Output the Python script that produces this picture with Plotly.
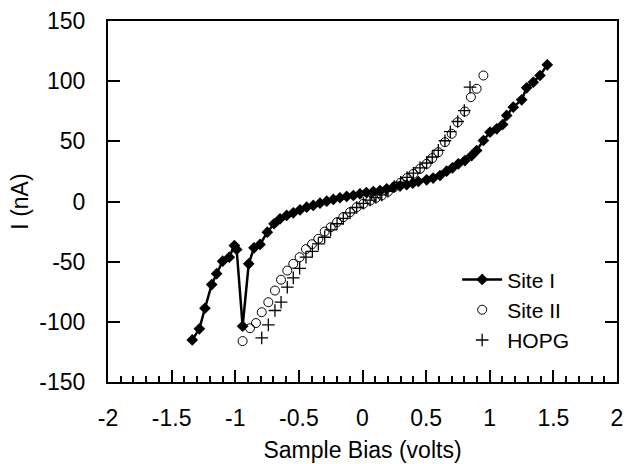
import plotly.graph_objects as go

# ---- data ----
site1_v = [-1.338, -1.282, -1.238, -1.185, -1.146, -1.099, -1.047, -1.007, -0.989, -0.942,
           -0.894, -0.853, -0.805, -0.748, -0.695, -0.648, -0.596, -0.544, -0.491, -0.439,
           -0.387, -0.334, -0.281, -0.229, -0.177, -0.124, -0.072, -0.02, 0.03, 0.085,
           0.138, 0.19, 0.242, 0.295, 0.347, 0.395, 0.439, 0.504, 0.555, 0.609,
           0.661, 0.707, 0.753, 0.805, 0.858, 0.897, 0.95, 1.002, 1.055, 1.102,
           1.133, 1.185, 1.251, 1.29, 1.342, 1.395, 1.452]
site1_i = [-115, -105.8, -88.7, -69, -60, -49.6, -46.3, -36.6, -39.9, -103.6,
           -51.8, -38.5, -35.7, -25.5, -18.5, -14.4, -11.6, -9.4, -6.9, -4.7,
           -3.3, -1.4, 0.3, 1.7, 3.1, 4.2, 5, 6.4, 7.5, 8.3,
           9.1, 10.5, 11.9, 12.8, 13.9, 15.2, 16.6, 18, 19.5, 21.6,
           25.2, 28, 31.3, 34, 38.2, 42.4, 50.7, 57.6, 60.4, 64,
           71.5, 78.4, 84.5, 94.5, 99.2, 104.7, 113.6]

site2_v = [-0.942, -0.884, -0.837, -0.792, -0.740, -0.688, -0.640, -0.591, -0.544, -0.494,
           -0.444, -0.397, -0.347, -0.297, -0.25, -0.2, -0.151, -0.098, -0.046, 0.007,
           0.06, 0.105, 0.151, 0.2, 0.25, 0.3, 0.35, 0.4, 0.452, 0.504,
           0.548, 0.596, 0.648, 0.701, 0.748, 0.805, 0.852, 0.897, 0.95]
site2_i = [-116, -105.3, -101, -92, -83.7, -74, -65, -57.4, -51.8, -46.3,
           -39.6, -35.5, -31, -25, -21.4, -17.2, -13, -8.9, -4.7, -1.9,
           0.8, 3, 5, 8.2, 12, 15.5, 19.5, 23, 27.2, 31.3,
           36, 41, 49.3, 56.3, 65.9, 74.8, 86.7, 93.7, 104.7]

hopg_v = [-0.792, -0.740, -0.688, -0.640, -0.591, -0.544, -0.494, -0.444, -0.394, -0.347,
          -0.297, -0.25, -0.2, -0.151, -0.098, -0.046, 0.007, 0.06, 0.105, 0.151,
          0.2, 0.25, 0.3, 0.35, 0.4, 0.452, 0.504, 0.548, 0.596, 0.648,
          0.69, 0.748, 0.8, 0.845]
hopg_i = [-113.3, -102.5, -90.6, -83.7, -71.2, -63.5, -55.5, -46.3, -41.5, -35.2,
          -29.7, -23.5, -18.5, -14, -9.5, -5, -1.5, 1.2, 3.3, 5.5,
          8.5, 12.5, 16, 20, 23.5, 28, 32, 37, 42.5, 50.5,
          58, 66.5, 75.5, 95]

x_ticks = [-2, -1.5, -1, -0.5, 0, 0.5, 1, 1.5, 2]
x_tick_labels = ["-2", "-1.5", "-1", "-0.5", "0", "0.5", "1", "1.5", "2"]
y_ticks = [-150, -100, -50, 0, 50, 100, 150]
y_tick_labels = ["-150", "-100", "-50", "0", "50", "100", "150"]

FONT = "Liberation Sans, Arial, Helvetica, sans-serif"
FS = 23

fig = go.Figure()
fig.add_trace(go.Scatter(
    x=site1_v, y=site1_i, name="Site I", mode="lines+markers",
    line=dict(color="black", width=2.5),
    marker=dict(symbol="diamond", size=9, color="black"),
))
fig.add_trace(go.Scatter(
    x=site2_v, y=site2_i, name="Site II", mode="markers",
    marker=dict(symbol="circle-open", size=9, color="black", line=dict(width=1)),
))
fig.add_trace(go.Scatter(
    x=hopg_v, y=hopg_i, name="HOPG", mode="markers",
    marker=dict(symbol="cross-thin-open", size=9, color="black", line=dict(width=1.3)),
))

fig.update_layout(
    width=626, height=464,
    margin=dict(l=108, r=9, t=21, b=82, autoexpand=False),
    paper_bgcolor="white", plot_bgcolor="white",
    font=dict(family=FONT, size=FS, color="black"),
    showlegend=True,
    legend=dict(
        x=0.686, y=0.34, xanchor="left", yanchor="top",
        bgcolor="rgba(0,0,0,0)", borderwidth=0,
        font=dict(size=21), tracegroupgap=0, itemwidth=40,
    ),
)
fig.update_xaxes(
    range=[-2, 2], tickmode="array", tickvals=x_ticks, ticktext=x_tick_labels,
    ticks="inside", ticklen=12, tickwidth=1.5, tickcolor="black",
    minor=dict(dtick=0.1, ticks="inside", ticklen=6, tickwidth=1.5, tickcolor="black"),
    showline=True, linewidth=2, linecolor="black", mirror=True,
    showgrid=False, zeroline=False, ticklabelstandoff=14,
    title=dict(text="Sample Bias (volts)", standoff=12, font=dict(size=FS)),
)
fig.update_yaxes(
    range=[-150, 150], tickmode="array", tickvals=y_ticks, ticktext=y_tick_labels,
    ticks="inside", ticklen=12, tickwidth=1.5, tickcolor="black",
    showline=True, linewidth=2, linecolor="black", mirror="ticks",
    showgrid=False, zeroline=False, ticklabelstandoff=16,
    title=dict(text="I (nA)", standoff=4, font=dict(size=FS)),
)

fig.write_html(
    "out.html",
    config={"displayModeBar": False},
    post_script="document.body.style.margin='0';document.body.style.overflow='hidden';",
)
